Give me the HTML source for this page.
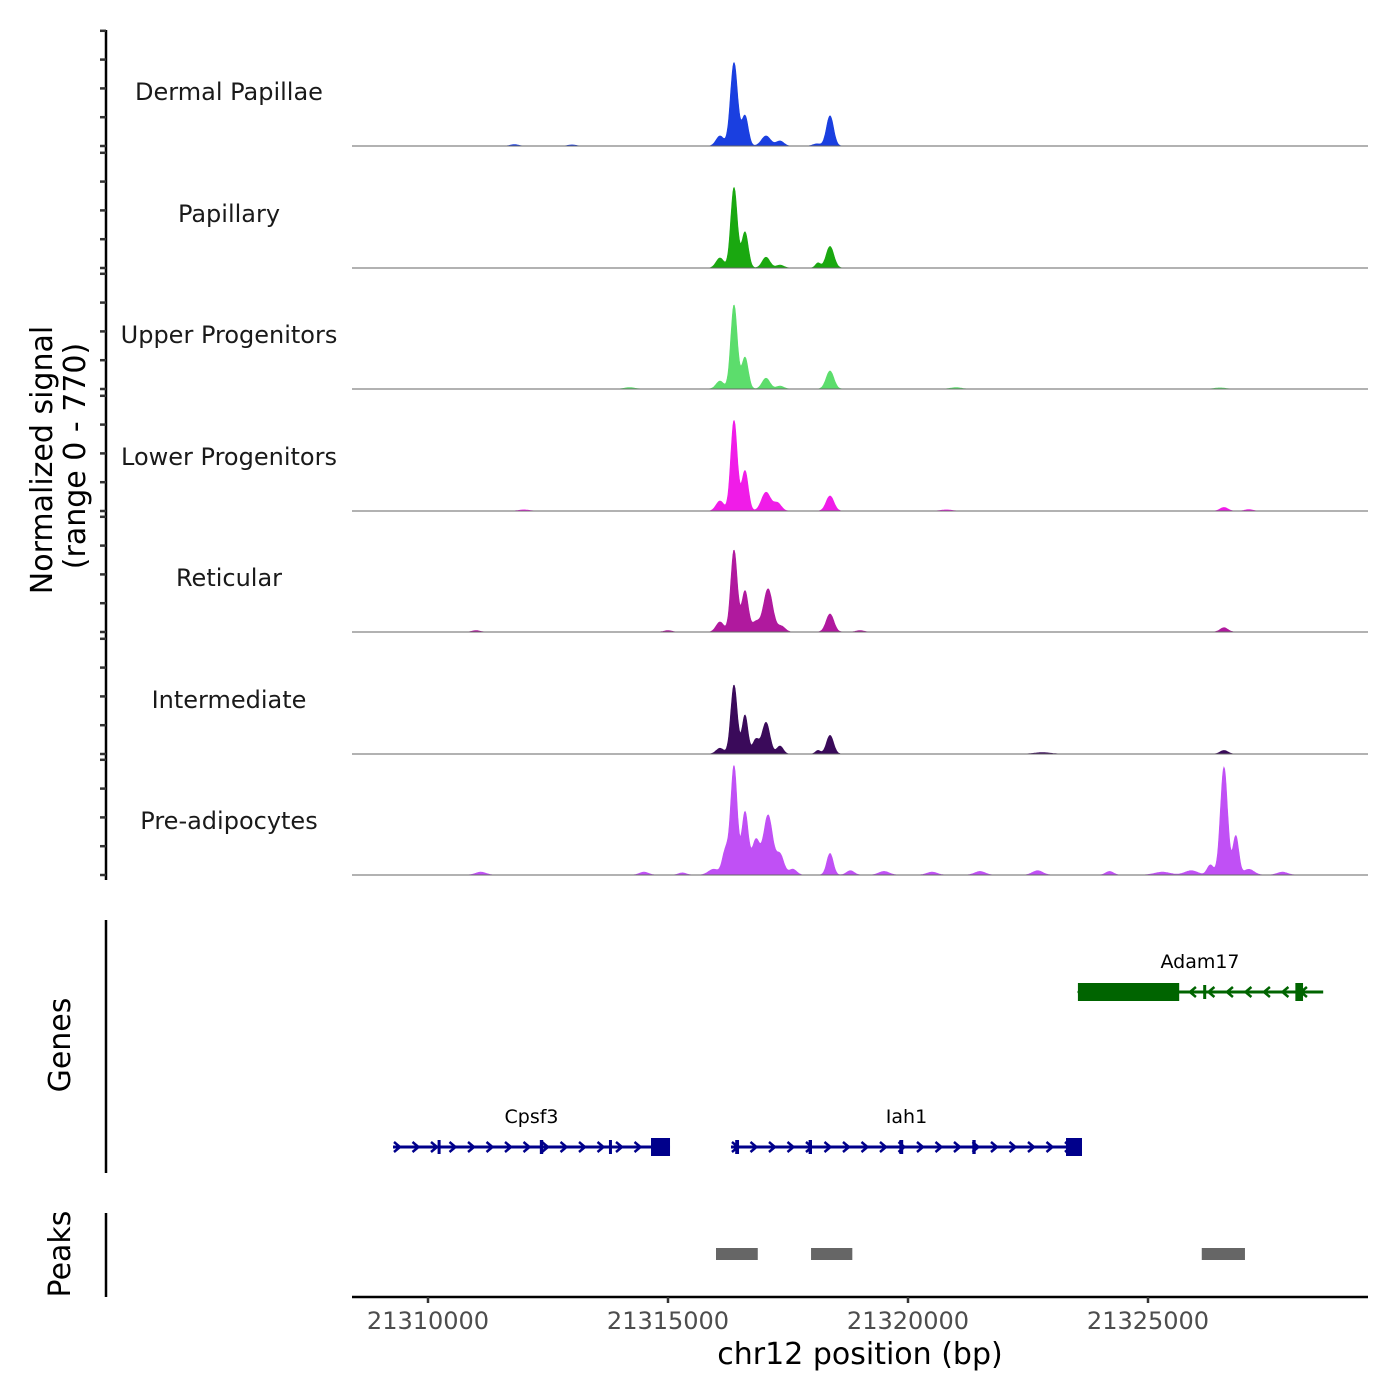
<!DOCTYPE html>
<html><head><meta charset="utf-8"><style>
html,body{margin:0;padding:0;background:#fff}
svg{display:block;font-family:"DejaVu Sans","Liberation Sans",sans-serif}
</style></head><body>
<svg id="chart" width="1400" height="1400" viewBox="0 0 1400 1400">
<g id="tracks"></g>
<g id="yaxis"></g>
<g id="genes"></g>
<g id="peaks"></g>
<g id="xaxis"></g>
<text x="52" y="460" transform="rotate(-90 52 460)" text-anchor="middle" font-size="30" fill="#000">Normalized signal</text>
<text x="85" y="456" transform="rotate(-90 85 456)" text-anchor="middle" font-size="30" fill="#000">(range 0 - 770)</text>
<text x="70" y="1045" transform="rotate(-90 70 1045)" text-anchor="middle" font-size="30" fill="#000">Genes</text>
<text x="70" y="1254" transform="rotate(-90 70 1254)" text-anchor="middle" font-size="30" fill="#000">Peaks</text>
<text x="860" y="1364" text-anchor="middle" font-size="30" fill="#000">chr12 position (bp)</text>
</svg>
<script>
const trackNames = ["Dermal Papillae","Papillary","Upper Progenitors","Lower Progenitors","Reticular","Intermediate","Pre-adipocytes"];
const trackColors = ["#1a3fe0","#1aa810","#5cdd6c","#f01ce8","#b0199e","#3a0a5a","#c050f5"];
// peaks: [position bp, height (signal), width sd bp]
const dermalPeaks = [[21316083,70,60],[21316375,580,55],[21316604,210,50],[21317042,70,70],[21317333,35,60],[21318375,210,55],[21318100,15,60],[21311800,10,60],[21313000,8,60]];
const papillaryPeaks = [[21316083,70,60],[21316375,560,50],[21316604,250,50],[21317042,75,60],[21317333,20,60],[21318375,150,60],[21318125,35,40]];
const upperPeaks = [[21316083,55,60],[21316375,585,50],[21316604,220,50],[21317042,75,60],[21317333,20,60],[21318375,125,60],[21314200,10,80],[21321000,10,80],[21326500,8,80]];
const lowerPeaks = [[21316083,70,60],[21316375,630,50],[21316604,280,50],[21317042,130,70],[21317280,55,60],[21318375,105,60],[21326583,25,60],[21327100,10,60],[21312000,8,80],[21320800,8,80]];
const reticularPeaks = [[21316083,70,60],[21316375,570,50],[21316604,285,50],[21316830,70,60],[21317085,300,70],[21317360,40,60],[21318375,125,60],[21326583,30,60],[21319000,10,60],[21311000,10,60],[21315000,10,60]];
const intermediatePeaks = [[21316083,40,60],[21316375,480,50],[21316604,270,45],[21316830,100,50],[21317042,220,60],[21317333,55,50],[21318375,130,55],[21318125,25,40],[21326583,25,60],[21322800,10,120]];
const preadipocytePeaks = [[21315950,40,80],[21316200,170,50],[21316375,755,50],[21316604,435,50],[21316830,240,60],[21317085,415,70],[21317333,140,60],[21317600,40,60],[21318375,150,50],[21318800,30,60],[21311100,20,80],[21314500,20,70],[21315300,15,60],[21319500,25,80],[21320500,20,80],[21321500,25,80],[21322700,30,80],[21324200,25,60],[21325300,20,120],[21325900,30,100],[21326300,70,50],[21326583,750,55],[21326830,270,45],[21327100,40,80],[21327800,20,80]];
const allPeaks = [dermalPeaks,papillaryPeaks,upperPeaks,lowerPeaks,reticularPeaks,intermediatePeaks,preadipocytePeaks];
const xTicks = [21310000,21315000,21320000,21325000];
const peakRegions = [[21316000,21316870],[21317980,21318840],[21326120,21327020]];
const geneNames = ["Cpsf3","Iah1","Adam17"];
const geneStrands = [1,1,-1];
const geneStarts = [21309271,21316312,21323540];
const geneEnds = [21315042,21323625,21328650];
const geneRows = [1,1,0];
const geneExons = [
 [[21310200,21310260,0],[21312330,21312400,0],[21313770,21313830,0],[21314646,21315042,1]],
 [[21316400,21316480,0],[21317930,21318000,0],[21319820,21319900,0],[21321340,21321410,0],[21323292,21323625,1]],
 [[21323540,21325650,1],[21326150,21326200,0],[21328070,21328230,1]]
];

const NS="http://www.w3.org/2000/svg";
const X0=21310000, PX0=428, PXPER=0.048;
function xs(bp){return PX0+(bp-X0)*PXPER;}
const YPER=0.144;
const WSCALE=1.35;
const baselines=[146,268,389,511,632,754,875];
function mk(tag,attrs,parent){const e=document.createElementNS(NS,tag);for(const k in attrs)e.setAttribute(k,attrs[k]);parent.appendChild(e);return e;}
const tracks=document.getElementById('tracks');
const BPMIN=21308417, BPMAX=21329583;
allPeaks.forEach((pk,i)=>{
  const b=baselines[i];
  const g=mk('g',{},tracks);
  
  
  let d='M'+xs(BPMIN)+','+b;
  for(let bp=BPMIN;bp<=BPMAX;bp+=15){
    let v=0;for(const p of pk){const z=(bp-p[0])/(p[2]*WSCALE);if(Math.abs(z)<5)v+=p[1]*Math.exp(-0.5*z*z);}
    d+=' L'+xs(bp).toFixed(1)+','+(b-v*YPER).toFixed(1);
  }
  d+=' L'+xs(BPMAX)+','+b+' Z';
  const a=mk('path',{d:d,fill:trackColors[i],stroke:trackColors[i],'stroke-width':0.6},g);
  
  
  const l=mk('line',{x1:352,x2:1368,y1:b,y2:b,stroke:'#666','stroke-width':1},g);
  
  
  const t=mk('text',{x:229,y:b-46,'text-anchor':'middle','font-size':24,fill:'#1a1a1a'},g);
  t.textContent=trackNames[i];
  
  
});
const ya=document.getElementById('yaxis');
mk('line',{x1:106,x2:106,y1:30,y2:880,stroke:'#000','stroke-width':2.5},ya);
baselines.forEach(b=>{for(let k=0;k<=4;k++){const y=b-k*28.8;mk('line',{x1:100,x2:106,y1:y,y2:y,stroke:'#333','stroke-width':2.5},ya);}});
mk('line',{x1:106,x2:106,y1:920,y2:1173,stroke:'#000','stroke-width':2.5},ya);
mk('line',{x1:106,x2:106,y1:1213,y2:1297,stroke:'#000','stroke-width':2.5},ya);
const gg=document.getElementById('genes');
const rowY=[992,1147];
geneNames.forEach((n,i)=>{
  const g=mk('g',{},gg);
  
  
  const col=geneStrands[i]>0?'#00008b':'#006400';
  const y=rowY[geneRows[i]];
  const x1=xs(geneStarts[i]),x2=xs(geneEnds[i]);
  mk('line',{x1:x1,x2:x2,y1:y,y2:y,stroke:col,'stroke-width':3},g);
  for(let x=x1+4;x<x2-6;x+=18.5){
    const s=geneStrands[i];
    mk('polyline',{points:`${x-3*s},${y-5} ${x+3*s},${y} ${x-3*s},${y+5}`,fill:'none',stroke:col,'stroke-width':2.5},g);
  }
  geneExons[i].forEach(e=>{
    const h=e[2]?18:14;const ex1=xs(e[0]),ex2=Math.max(xs(e[1]),ex1+3);
    mk('rect',{x:ex1,y:y-h/2,width:ex2-ex1,height:h,fill:col},g);
  });
  const t=mk('text',{x:(x1+x2)/2,y:y-24,'text-anchor':'middle','font-size':19,fill:'#000'},g);
  if(i===2)t.setAttribute('x',1200);
  t.textContent=n;
  
  
});
const pg=document.getElementById('peaks');
peakRegions.forEach(p=>{
  const r=mk('rect',{x:xs(p[0]),y:1248,width:xs(p[1])-xs(p[0]),height:12,fill:'#666'},pg);
  
  
});
const xa=document.getElementById('xaxis');
mk('line',{x1:352,x2:1368,y1:1297,y2:1297,stroke:'#000','stroke-width':2.5},xa);
xTicks.forEach(v=>{
  const x=xs(v);
  mk('line',{x1:x,x2:x,y1:1297,y2:1303,stroke:'#333','stroke-width':2.5},xa);
  const t=mk('text',{x:x,y:1329,'text-anchor':'middle','font-size':24,fill:'#4d4d4d'},xa);
  t.textContent=v;
  
  
});
</script>
</body></html>
